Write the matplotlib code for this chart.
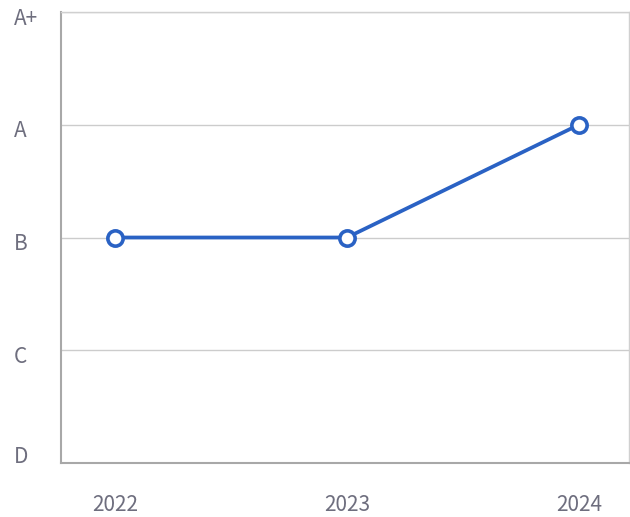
import matplotlib
matplotlib.use("Agg")
import matplotlib.pyplot as plt
from matplotlib.transforms import ScaledTranslation

# datos
anios = ["2022", "2023", "2024"]
notas = [2, 2, 3]          # D=0, C=1, B=2, A=3, A+=4
escala = ["D", "C", "B", "A", "A+"]

plt.rcParams['font.family'] = ['Noto Sans CJK KR', 'DejaVu Sans']

fig = plt.figure(figsize=(6.3, 5.17), dpi=100)
ax = fig.add_axes([0.0968, 0.1044, 0.9016, 0.8724])

x = list(range(len(anios)))
ax.plot(x, notas, color='#2a62c4', lw=2.7, marker='o', ms=11,
        mfc='white', mec='#2a62c4', mew=2.6, zorder=3, clip_on=False)

ax.set_xlim(-0.233, 2.216)
ax.set_ylim(0, 4)
ax.set_xticks(x)
ax.set_xticklabels(anios)
ax.set_yticks(range(len(escala)))
ax.set_yticklabels(escala)

ax.grid(axis='y', color='#cccccc', lw=1)
ax.set_axisbelow(True)
for s in ['left', 'bottom']:
    ax.spines[s].set_color('#a8a8a8')
    ax.spines[s].set_linewidth(1.5)
for s in ['top', 'right']:
    ax.spines[s].set_color('#d0d0d0')
    ax.spines[s].set_linewidth(1.0)

ax.tick_params(axis='both', length=0, labelsize=15, labelcolor='#6e6e7e')
ax.tick_params(axis='y', pad=34)
ax.tick_params(axis='x', pad=22)
for i, t in enumerate(ax.get_yticklabels()):
    t.set_horizontalalignment('left')
    dy = 6 / 72 if i == 0 else -3 / 72
    t.set_transform(t.get_transform() + ScaledTranslation(0, dy, fig.dpi_scale_trans))

plt.savefig('out.png')
